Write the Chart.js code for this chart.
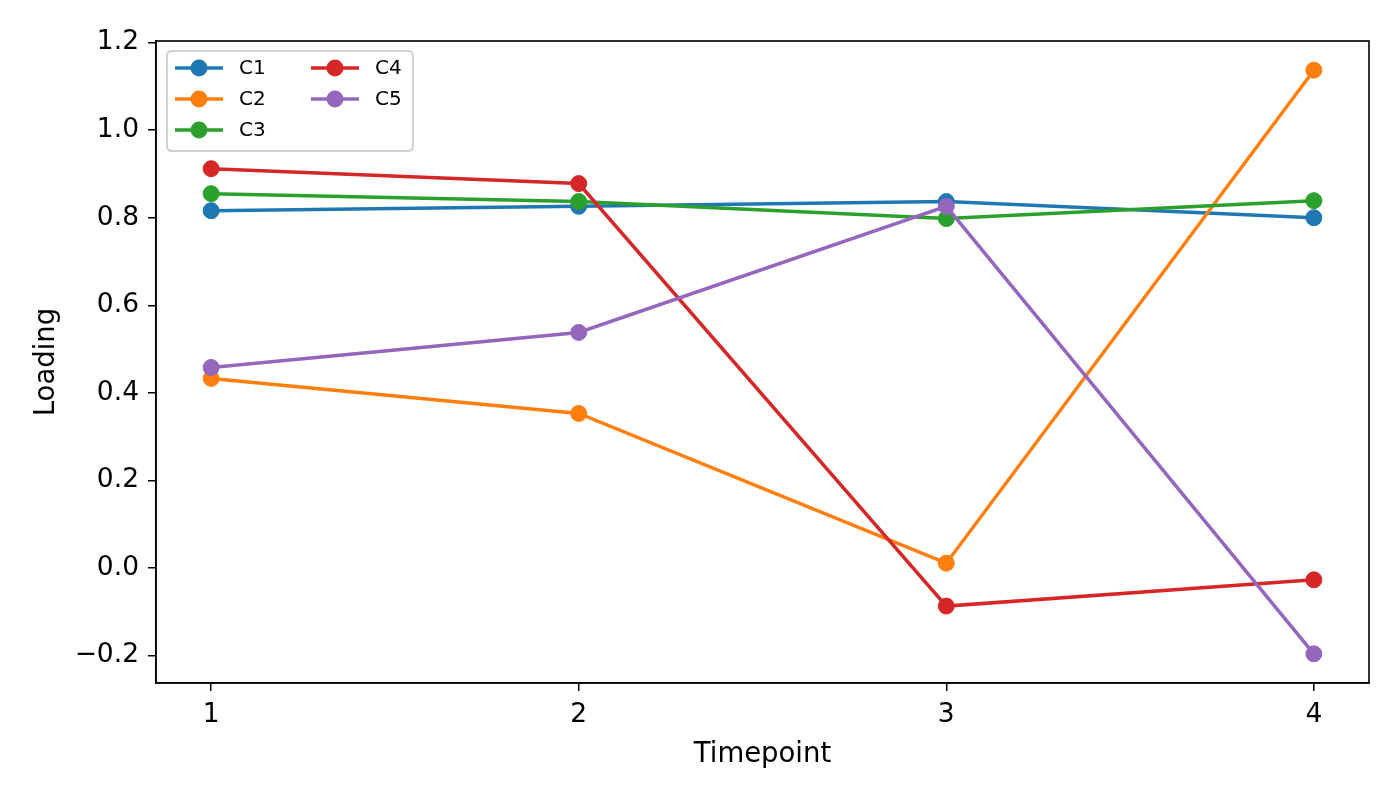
<!DOCTYPE html>
<html>
<head>
<meta charset="utf-8">
<script src="https://cdn.jsdelivr.net/npm/chart.js@4/dist/chart.umd.min.js"></script>
<style>
  html, body { margin: 0; padding: 0; background: #fff; }
  #wrap { width: 1400px; height: 800px; }
</style>
</head>
<body>
<div id="wrap"><canvas id="c" width="1400" height="800"></canvas></div>
<script>
// ---- data ----
const timepoints = [1, 2, 3, 4];
const seriesNames = ["C1", "C2", "C3", "C4", "C5"];
const c1 = [0.816, 0.826, 0.837, 0.800];
const c2 = [0.433, 0.353, 0.011, 1.137];
const c3 = [0.855, 0.837, 0.798, 0.839];
const c4 = [0.912, 0.878, -0.087, -0.027];
const c5 = [0.458, 0.538, 0.826, -0.196];
const xTickValues = [1, 2, 3, 4];
const yTickValues = [-0.2, 0.0, 0.2, 0.4, 0.6, 0.8, 1.0, 1.2];
const colors = ["#1f77b4", "#ff7f0e", "#2ca02c", "#d62728", "#9467bd"];
const xTitle = "Timepoint";
const yTitle = "Loading";

const allSeries = [c1, c2, c3, c4, c5];
const allVals = allSeries.flat();
const dMin = Math.min(...allVals), dMax = Math.max(...allVals);
const yPad = (dMax - dMin) * 0.05;
const xPad = (timepoints[timepoints.length - 1] - timepoints[0]) * 0.05;

const FONT = "'DejaVu Sans', 'Liberation Sans', sans-serif";

const datasets = allSeries.map((vals, i) => ({
  label: seriesNames[i],
  data: timepoints.map((t, j) => ({ x: t, y: vals[j] })),
  borderColor: colors[i],
  backgroundColor: colors[i],
  pointBackgroundColor: colors[i],
  pointBorderColor: colors[i],
  borderWidth: 3.5,
  pointRadius: 8,
  pointHoverRadius: 8,
  pointBorderWidth: 1,
  tension: 0,
  fill: false,
  order: allSeries.length - i
}));

const framePlugin = {
  id: 'frame',
  afterDraw(chart) {
    const { ctx, chartArea: a } = chart;
    ctx.save();
    ctx.strokeStyle = '#000';
    ctx.lineWidth = 1.6;
    ctx.strokeRect(a.left, a.top, a.right - a.left, a.bottom - a.top);
    ctx.restore();
  }
};

const legendPlugin = {
  id: 'mplLegend',
  afterDraw(chart) {
    const { ctx } = chart;
    const box = { x: 167, y: 51, w: 246, h: 100 };
    ctx.save();
    const r = 5;
    ctx.beginPath();
    ctx.moveTo(box.x + r, box.y);
    ctx.lineTo(box.x + box.w - r, box.y);
    ctx.quadraticCurveTo(box.x + box.w, box.y, box.x + box.w, box.y + r);
    ctx.lineTo(box.x + box.w, box.y + box.h - r);
    ctx.quadraticCurveTo(box.x + box.w, box.y + box.h, box.x + box.w - r, box.y + box.h);
    ctx.lineTo(box.x + r, box.y + box.h);
    ctx.quadraticCurveTo(box.x, box.y + box.h, box.x, box.y + box.h - r);
    ctx.lineTo(box.x, box.y + r);
    ctx.quadraticCurveTo(box.x, box.y, box.x + r, box.y);
    ctx.closePath();
    ctx.fillStyle = 'rgba(255,255,255,0.8)';
    ctx.fill();
    ctx.strokeStyle = '#d0d0d0';
    ctx.lineWidth = 2;
    ctx.stroke();

    const rowsPerCol = 3;
    const colX = [175, 311];
    const rowY = [68, 99, 130];
    const handleLen = 48;
    chart.data.datasets.forEach((ds, i) => {
      const col = Math.floor(i / rowsPerCol);
      const row = i % rowsPerCol;
      const x0 = colX[col], y0 = rowY[row];
      ctx.strokeStyle = ds.borderColor;
      ctx.lineWidth = 3.5;
      ctx.beginPath();
      ctx.moveTo(x0, y0);
      ctx.lineTo(x0 + handleLen, y0);
      ctx.stroke();
      ctx.fillStyle = ds.borderColor;
      ctx.beginPath();
      ctx.arc(x0 + handleLen / 2, y0, 8.5, 0, Math.PI * 2);
      ctx.fill();
      ctx.fillStyle = '#000';
      ctx.font = '20px ' + FONT;
      ctx.textBaseline = 'middle';
      ctx.textAlign = 'left';
      ctx.fillText(ds.label, x0 + handleLen + 16, y0 + 1);
    });
    ctx.restore();
  }
};

new Chart(document.getElementById('c'), {
  type: 'line',
  data: { datasets },
  plugins: [framePlugin, legendPlugin],
  options: {
    responsive: false,
    animation: false,
    devicePixelRatio: 1,
    layout: { padding: { top: 41, right: 31, left: 0, bottom: 0 } },
    plugins: { legend: { display: false }, tooltip: { enabled: false } },
    scales: {
      x: {
        type: 'linear',
        min: timepoints[0] - xPad,
        max: timepoints[timepoints.length - 1] + xPad,
        afterBuildTicks(scale) { scale.ticks = xTickValues.map(v => ({ value: v })); },
        afterFit(scale) { scale.height = 117; },
        grid: { drawOnChartArea: false, drawTicks: true, tickLength: 8, color: '#000', lineWidth: 1.5 },
        border: { display: true, color: '#000', width: 1.6 },
        ticks: {
          color: '#000', font: { family: FONT, size: 26.5 }, padding: 8,
          maxRotation: 0, autoSkip: false,
          callback: v => String(v)
        },
        title: {
          display: true, text: xTitle, color: '#000',
          font: { family: FONT, size: 27.5 }, padding: { top: 0, bottom: 29 }
        }
      },
      y: {
        type: 'linear',
        min: dMin - yPad,
        max: dMax + yPad,
        afterBuildTicks(scale) { scale.ticks = yTickValues.map(v => ({ value: v })); },
        afterFit(scale) { scale.width = 156; },
        grid: { drawOnChartArea: false, drawTicks: true, tickLength: 8, color: '#000', lineWidth: 1.5 },
        border: { display: true, color: '#000', width: 1.6 },
        ticks: {
          color: '#000', font: { family: FONT, size: 26.5 }, padding: 9,
          autoSkip: false,
          callback: v => (v < -1e-9 ? '\u2212' : '') + Math.abs(v).toFixed(1)
        },
        title: {
          display: true, text: yTitle, color: '#000',
          font: { family: FONT, size: 27.5 }, padding: { top: 30, bottom: 0 }
        }
      }
    }
  }
});
</script>
</body>
</html>
